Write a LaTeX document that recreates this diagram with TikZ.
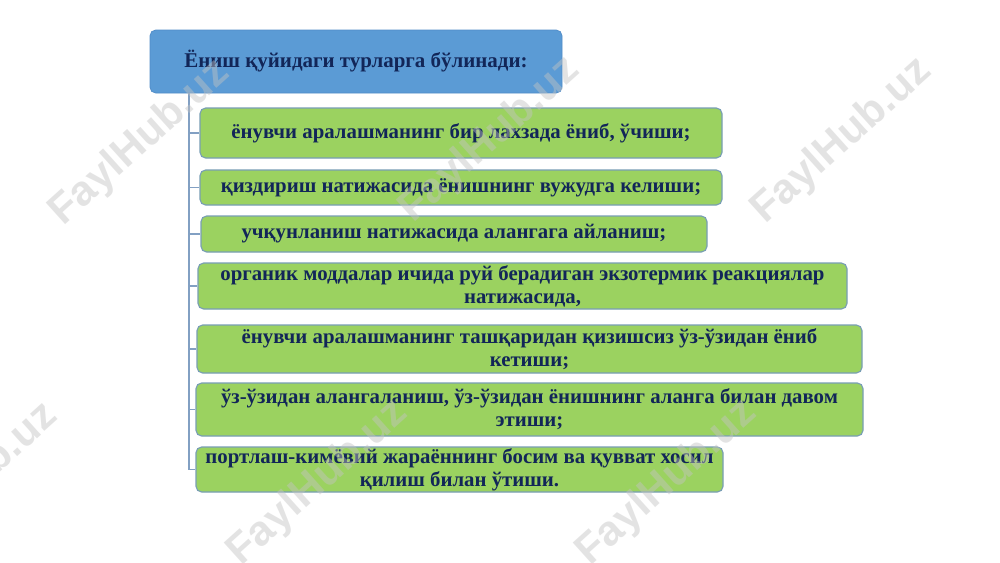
\documentclass[tikz,border=0pt]{standalone}
\usepackage{fontspec}
\setmainfont{Liberation Serif}
\newfontfamily\wmfont{Liberation Sans}
\definecolor{hdrblue}{RGB}{91,155,213}
\definecolor{hdrline}{RGB}{80,140,200}
\definecolor{boxgreen}{RGB}{155,210,96}
\definecolor{boxline}{RGB}{120,158,180}
\definecolor{trunkc}{RGB}{130,160,195}
\definecolor{txtnavy}{RGB}{18,38,88}
\definecolor{wmgray}{RGB}{195,195,195}
\tikzset{
  x=0.025cm, y=-0.025cm,
  hdrbox/.style={draw=hdrline, line width=0.5pt, fill=hdrblue, rounded corners=4pt,
    text=txtnavy, font=\fontsize{14.9}{17}\selectfont\bfseries, inner sep=0pt},
  itembox/.style={draw=boxline, line width=0.8pt, fill=boxgreen, rounded corners=4pt,
    text=txtnavy, font=\fontsize{14.8}{16.4}\selectfont\bfseries, align=center, inner sep=0pt},
  conn/.style={draw=trunkc, line width=0.8pt},
  wm/.style={text=wmgray, opacity=0.45, rotate=42, font=\wmfont\fontsize{30}{30}\selectfont\bfseries}
}
\begin{document}
\begin{tikzpicture}
\useasboundingbox (0,0) rectangle (1000,562);
\fill[white] (0,0) rectangle (1000,562);
\node[hdrbox, minimum width=412*0.025cm, minimum height=63*0.025cm] (hdr) at (356,61.5) {Ёниш қуйидаги турларга бўлинади:};
\node[itembox, minimum width=522*0.025cm, minimum height=50*0.025cm] (b1) at (461,133) {ёнувчи аралашманинг бир лахзада ёниб, ўчиши;};
\node[itembox, minimum width=522*0.025cm, minimum height=35*0.025cm] (b2) at (461,187.5) {қиздириш натижасида ёнишнинг вужудга келиши;};
\node[itembox, minimum width=506*0.025cm, minimum height=36*0.025cm] (b3) at (454,234) {учқунланиш натижасида алангага айланиш;};
\node[itembox, minimum width=649*0.025cm, minimum height=46*0.025cm] (b4) at (522.5,286) {органик моддалар ичида руй берадиган экзотермик реакциялар\\натижасида,};
\node[itembox, minimum width=665*0.025cm, minimum height=48*0.025cm] (b5) at (529.5,349) {ёнувчи аралашманинг ташқаридан қизишсиз ўз-ўзидан ёниб\\кетиши;};
\node[itembox, minimum width=667*0.025cm, minimum height=53*0.025cm] (b6) at (529.5,409.5) {ўз-ўзидан алангаланиш, ўз-ўзидан ёнишнинг аланга билан давом\\этиши;};
\node[itembox, minimum width=527*0.025cm, minimum height=45*0.025cm] (b7) at (459.5,469.5) {портлаш-кимёвий жараённинг босим ва қувват хосил\\қилиш билан ўтиши.};
\coordinate (trunk) at (189,93);
\draw[conn] (trunk) |- (b7.west);
\foreach \b in {b1,b2,b3,b4,b5,b6}{
  \draw[conn] (trunk |- \b.west) -- (\b.west);
}
\begin{scope}
\clip (0,0) rectangle (1000,562);
\foreach \p in {(140,143),(490,140),(842,141),(-32,486),(318,483),(667,483)}{
  \node[wm] at \p {FaylHub.uz};
}
\end{scope}
\end{tikzpicture}
\end{document}
